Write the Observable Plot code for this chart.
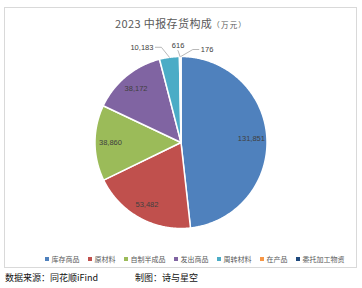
<!DOCTYPE html>
<html><head><meta charset="utf-8">
<script src="https://cdn.jsdelivr.net/npm/d3@7"></script>
<script src="https://cdn.jsdelivr.net/npm/@observablehq/plot@0.6"></script>
<style>
html,body{margin:0;padding:0;background:#fff;}
#page{position:relative;width:362px;height:288px;overflow:hidden;font-family:"Noto Sans CJK SC","Noto Sans",sans-serif;}
#box{position:absolute;left:4px;top:7px;width:353px;height:261px;box-sizing:border-box;border:1px solid #d9d9d9;}
#title{position:absolute;left:0;width:362px;top:15px;text-align:center;color:#595959;font-size:11px;line-height:16px;white-space:nowrap;letter-spacing:0.4px;}
#title small{font-size:7.5px;letter-spacing:1.2px;}
#chart{position:absolute;left:0;top:30px;}
#legend{position:absolute;left:18px;width:353px;top:254px;text-align:center;font-size:7px;line-height:10px;color:#595959;white-space:nowrap;}
#legend span.item{margin:0 4px;}
#legend i{display:inline-block;width:4px;height:4px;margin-right:3px;vertical-align:1px;}
#caption{position:absolute;left:5px;top:271px;font-size:9px;line-height:14px;color:#111;white-space:nowrap;}
#caption span{position:absolute;top:0;}
</style></head>
<body><div id="page">
<div id="box"></div>
<div id="title">2023 中报存货构成<small>（万元）</small></div>
<div id="chart"></div>
<div id="legend"></div>
<div id="caption"><span style="left:0">数据来源：同花顺iFind</span><span style="left:130px">制图：诗与星空</span></div>
</div>
<script>
// ---- data ----
const categories = ["库存商品", "原材料", "自制半成品", "发出商品", "周转材料", "在产品", "委托加工物资"];
const values = [131851, 53482, 38860, 38172, 10183, 616, 176];
const colors = ["#4F81BD", "#C0504D", "#9BBB59", "#8064A2", "#4BACC6", "#F79646", "#1F497D"];

// ---- layout (not data) ----
const W = 362, H = 220;
const cx = 180.5, cy = 112, R = 86;
const insideFactor = 0.82;
// outside label leader offsets for thin slices: [elbow dx, elbow dy, tail dx, anchor]
const outsideLayout = {
  4: [-8, -10, -6, "end"],
  5: [-2, -6, 0, "middle"],
  6: [12, -7, 6, "start"]
};

const fmt = d3.format(",");
const arcs = d3.pie().sort(null).value(d => d.value).startAngle(0).endAngle(2 * Math.PI)(
  categories.map((c, i) => ({name: c, value: values[i]}))
);
const pt = (a, r) => [cx + r * Math.sin(a), cy - r * Math.cos(a)];

const slices = arcs.map(a => {
  const n = Math.max(2, Math.ceil((a.endAngle - a.startAngle) / 0.01));
  const ring = [[cx, cy]];
  for (let k = 0; k <= n; k++) ring.push(pt(a.startAngle + (a.endAngle - a.startAngle) * k / n, R));
  ring.push([cx, cy]);
  return {type: "Feature", properties: {name: a.data.name}, geometry: {type: "Polygon", coordinates: [ring]}};
});

const labels = [];
const leaders = [];
arcs.forEach((a, i) => {
  const mid = (a.startAngle + a.endAngle) / 2;
  const text = fmt(a.data.value);
  if (outsideLayout[i]) {
    const [ex, ey, tx, anchor] = outsideLayout[i];
    const p0 = pt(mid, R);
    const p1 = [p0[0] + ex, p0[1] + ey];
    const p2 = [p1[0] + tx, p1[1]];
    leaders.push({type: "Feature", properties: {}, geometry: {type: "LineString", coordinates: [p0, p1, p2]}});
    let lx = p2[0], ly = p2[1];
    if (anchor === "end") lx -= 2;
    else if (anchor === "start") lx += 2;
    else ly -= 4.5;
    labels.push({x: lx, y: ly, text, anchor});
  } else {
    const [x, y] = pt(mid, R * insideFactor);
    labels.push({x, y, text, anchor: "middle-in"});
  }
});

const frame = {type: "Polygon", coordinates: [[[0, 0], [W, 0], [W, H], [0, H], [0, 0]]]};
const textOpts = {x: "x", y: "y", text: "text", fill: "#404040", fontSize: 7.5, fontFamily: "'Liberation Sans', sans-serif"};

const chart = Plot.plot({
  width: W, height: H, margin: 0,
  projection: {type: "identity", domain: frame},
  color: {domain: categories, range: colors},
  marks: [
    Plot.geo(slices, {fill: d => d.properties.name, stroke: "white", strokeWidth: 1.5}),
    Plot.geo(leaders, {stroke: "#a6a6a6", strokeWidth: 0.8, fill: "none"}),
    Plot.text(labels.filter(d => d.anchor === "middle-in"), {...textOpts}),
    Plot.text(labels.filter(d => d.anchor === "middle"), {...textOpts, textAnchor: "middle"}),
    Plot.text(labels.filter(d => d.anchor === "end"), {...textOpts, textAnchor: "end"}),
    Plot.text(labels.filter(d => d.anchor === "start"), {...textOpts, textAnchor: "start"})
  ]
});
document.getElementById("chart").appendChild(chart);

const legend = document.getElementById("legend");
categories.forEach((c, i) => {
  const s = document.createElement("span");
  s.className = "item";
  s.innerHTML = `<i style="background:${colors[i]}"></i>${c}`;
  legend.appendChild(s);
});
</script>
</body></html>
